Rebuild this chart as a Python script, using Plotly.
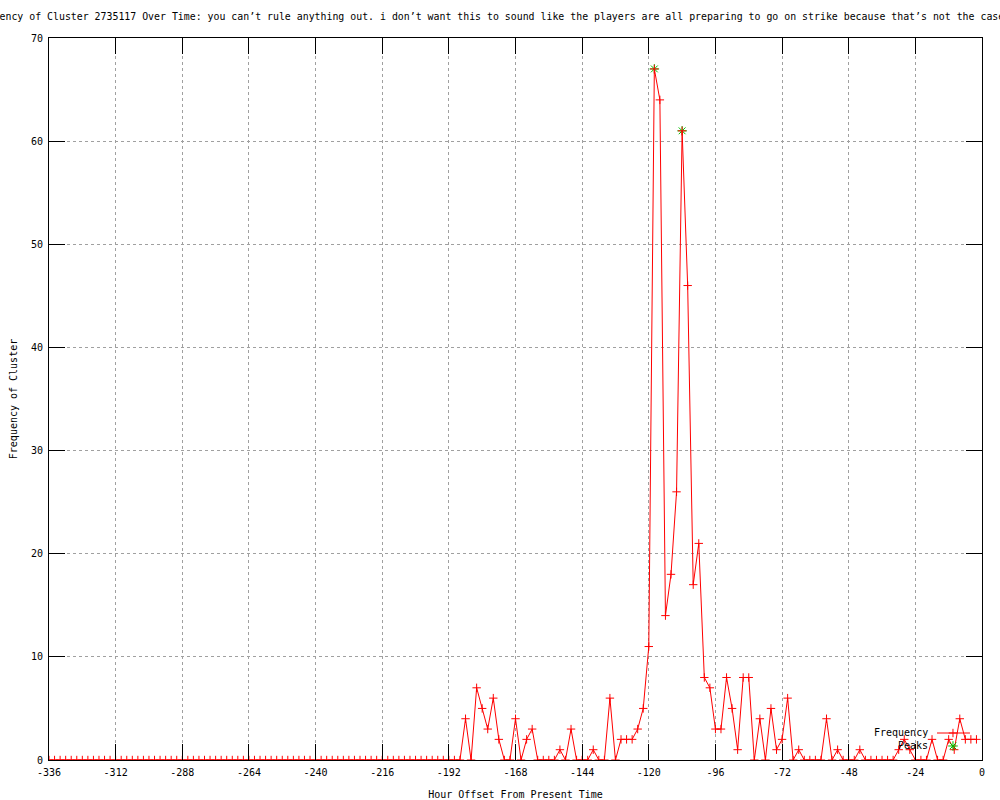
import plotly.graph_objects as go

# ---- data ----
hours = list(range(-336, 0, 2))  # -336 .. -2, every 2 hours
frequency = (
    [0] * 75 +                       # -336 .. -188
    [4, 0, 7, 5, 3, 6, 2, 0, 0, 4,   # -186 .. -168
     0, 2, 3, 0, 0, 0, 0, 1, 0, 3,   # -166 .. -148
     0, 0, 0, 1, 0, 0, 6, 0, 2, 2,   # -146 .. -128
     2, 3, 5, 11, 67, 64, 14, 18, 26, 61,  # -126 .. -108
     46, 17, 21, 8, 7, 3, 3, 8, 5, 1,      # -106 .. -88
     8, 8, 0, 4, 0, 5, 1, 2, 6, 0,         # -86 .. -68
     1, 0, 0, 0, 0, 4, 0, 1, 0, 0,         # -66 .. -48
     0, 1, 0, 0, 0, 0, 0, 0, 1, 2,         # -46 .. -28
     1, 0, 0, 0, 2, 0, 0, 2, 1, 4,         # -26 .. -8
     2, 2, 2]                              # -6 .. -2
)
peak_hours = [-118, -108]
peak_values = [67, 61]

x_tickvals = list(range(-336, 1, 24))
x_ticktext = ["-336", "-312", "-288", "-264", "-240", "-216", "-192", "-168",
              "-144", "-120", "-96", "-72", "-48", "-24", "0"]
y_tickvals = [0, 10, 20, 30, 40, 50, 60, 70]
y_ticktext = ["0", "10", "20", "30", "40", "50", "60", "70"]

title_text = ("Frequency of Cluster 2735117 Over Time: you can\u2019t rule anything out. "
              "i don\u2019t want this to sound like the players are all preparing to go on "
              "strike because that\u2019s not the case")
legend_labels = ["Frequency", "Peaks"]

FONT = "DejaVu Sans Mono"
RED = "#ff0000"
GREEN = "#00c000"

fig = go.Figure()

fig.add_trace(go.Scatter(
    x=peak_hours, y=peak_values, mode="markers",
    marker=dict(symbol="asterisk-open", size=8, color=GREEN, line=dict(color=GREEN, width=1)),
    name=legend_labels[1], showlegend=False, hoverinfo="skip"))

fig.add_trace(go.Scatter(
    x=hours, y=frequency, mode="lines+markers",
    line=dict(color=RED, width=1),
    marker=dict(symbol="cross-thin-open", size=6, color=RED, line=dict(color=RED, width=1)),
    name=legend_labels[0], showlegend=False))

# legend samples on an overlay axis in [0,1]
fig.add_trace(go.Scatter(
    x=[0.9518, 0.9871], y=[0.0374, 0.0374], mode="lines",
    line=dict(color=RED, width=1), xaxis="x2", yaxis="y2",
    showlegend=False, hoverinfo="skip"))
fig.add_trace(go.Scatter(
    x=[0.9689], y=[0.0374], mode="markers",
    marker=dict(symbol="cross-thin-open", size=6, color=RED, line=dict(color=RED, width=1)),
    xaxis="x2", yaxis="y2", showlegend=False, hoverinfo="skip"))
fig.add_trace(go.Scatter(
    x=[0.9689], y=[0.0194], mode="markers",
    marker=dict(symbol="asterisk-open", size=8, color=GREEN, line=dict(color=GREEN, width=1)),
    xaxis="x2", yaxis="y2", showlegend=False, hoverinfo="skip"))

axis_common = dict(
    showline=True, linecolor="black", linewidth=1, mirror="ticks",
    ticks="inside", ticklen=16, tickcolor="black", tickwidth=1,
    showgrid=True, gridcolor="#a0a0a0", griddash="dot", gridwidth=1,
    zeroline=False, automargin=False, ticklabelstandoff=3,
    tickfont=dict(family=FONT, size=10, color="black"),
)

fig.update_layout(
    width=1000, height=800,
    margin=dict(l=49, r=18, t=38, b=40, autoexpand=False),
    paper_bgcolor="white", plot_bgcolor="white",
    font=dict(family=FONT, size=10, color="black"),
    title=dict(text=title_text, x=0.487, xref="container", xanchor="center",
               y=1 - 17 / 800, yref="container", yanchor="middle",
               font=dict(family=FONT, size=9.9, color="black")),
    xaxis=dict(range=[-336, 0], tickmode="array", tickvals=x_tickvals, ticktext=x_ticktext,
               title=dict(text="Hour Offset From Present Time", standoff=13,
                          font=dict(family=FONT, size=10)),
               **axis_common),
    yaxis=dict(range=[0, 70], tickmode="array", tickvals=y_tickvals, ticktext=y_ticktext,
               title=dict(text="Frequency of Cluster", standoff=11,
                          font=dict(family=FONT, size=10)),
               **axis_common),
    xaxis2=dict(range=[0, 1], overlaying="x", visible=False, fixedrange=True),
    yaxis2=dict(range=[0, 1], overlaying="y", visible=False, fixedrange=True),
    showlegend=False,
)

fig.add_annotation(text=legend_labels[0], xref="paper", yref="paper",
                   x=0.944, y=0.0374, xanchor="right", yanchor="middle",
                   showarrow=False, font=dict(family=FONT, size=10, color="black"))
fig.add_annotation(text=legend_labels[1], xref="paper", yref="paper",
                   x=0.944, y=0.0194, xanchor="right", yanchor="middle",
                   showarrow=False, font=dict(family=FONT, size=10, color="black"))

fig.write_html("out.html", config={"displayModeBar": False},
               post_script="document.body.style.margin='0';document.body.style.overflow='hidden';")
